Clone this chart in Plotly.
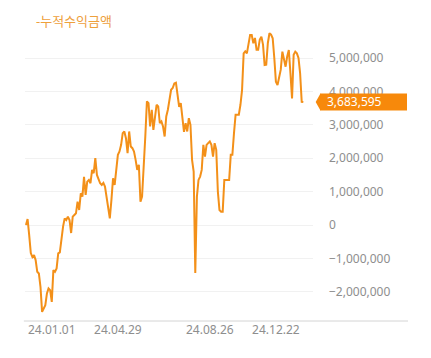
import plotly.graph_objects as go

# cumulative profit amount (millions of won)
values_m = [
    0.0, 0.18, -0.3, -0.84, -0.96, -0.9, -1.05, -1.4, -1.45, -1.85,
    -2.6, -2.5, -2.4, -2.05, -1.9, -1.95, -2.3, -1.35, -1.4, -1.3,
    -0.85, -0.82, -0.35, -0.05, 0.2, 0.15, 0.25, 0.15, -0.24, 0.25,
    0.3, 0.35, 0.7, 0.45, 0.95, 0.85, 1.44, 0.9, 1.3, 1.35,
    1.25, 1.65, 1.55, 2.0, 1.5, 1.35, 1.25, 1.2, 1.26, 1.15,
    0.84, 0.5, 0.2, 0.75, 1.4, 1.2, 1.65, 2.1, 2.2, 2.4,
    2.75, 2.8, 2.6, 2.15, 2.8, 2.35, 2.3, 2.2, 1.95, 1.65,
    1.8, 0.7, 0.85, 1.65, 2.65, 3.7, 3.65, 2.95, 3.45, 2.85,
    3.3, 3.6, 3.55, 3.05, 3.1, 2.95, 2.65, 3.25, 3.45, 3.75,
    4.05, 4.1, 4.24, 4.26, 3.9, 3.54, 3.65, 3.24, 2.79, 3.05,
    2.8, 3.2, 3.0, 1.95, 1.6, -1.44, 0.85, 1.35, 1.45, 1.65,
    2.4, 2.05, 2.4, 2.45, 2.5, 2.4, 2.05, 2.45, 2.25, 1.0,
    0.45, 0.4, 0.4, 1.35, 1.35, 1.35, 1.35, 2.1, 2.1, 2.75,
    3.3, 3.3, 3.3, 3.6, 4.04, 5.14, 5.2, 5.14, 5.4, 5.69,
    5.69, 5.44, 5.6, 5.25, 5.25, 5.55, 5.64, 5.4, 4.79, 4.8,
    5.45, 5.74, 5.7, 5.59, 5.0, 4.29, 4.19, 4.4, 4.65, 5.19,
    5.0, 4.74, 5.05, 5.24, 4.55, 3.79, 5.1, 5.19, 5.14, 5.0,
    4.55, 3.69, 3.683595,
]
values = [round(v * 1_000_000) for v in values_m]
last_value = 3683595
values[-1] = last_value

tick_index = [16, 57, 114, 155]
tick_labels = ["24.01.01", "24.04.29", "24.08.26", "24.12.22"]
y_ticks = [-2_000_000, -1_000_000, 0, 1_000_000, 2_000_000, 3_000_000, 4_000_000, 5_000_000]
series_name = "누적수익금액"

LINE = "#f39019"
BADGE = "#f7890b"
GRAY = "#8e8e8e"
FONT = "Noto Sans, Noto Sans CJK KR, sans-serif"

# layout geometry (the page body has an 8px default margin)
W, H = 423, 350
ML, MR, MT, MB = 17, 118, 17, 37
PW = W - ML - MR
PH = H - MT - MB
Y_RANGE = [-2_874_000, 5_988_000]
per_px = (Y_RANGE[1] - Y_RANGE[0]) / PH
half_h = 8.5 * per_px

def px_x(p):
    return 1 + p / PW

x = list(range(len(values)))

fig = go.Figure()
fig.add_trace(go.Scatter(
    x=x, y=values, mode="lines", name=series_name,
    line=dict(color=LINE, width=2), showlegend=False,
))

fig.update_layout(
    width=W, height=H,
    margin=dict(l=ML, r=MR, t=MT, b=MB),
    paper_bgcolor="white", plot_bgcolor="white",
    font=dict(family=FONT, size=12, color=GRAY),
    xaxis=dict(
        range=[-0.6, 178], tickmode="array", tickvals=tick_index, ticktext=tick_labels,
        showgrid=False, zeroline=False, showline=False, ticks="",
        tickfont=dict(size=12, color=GRAY),
    ),
    yaxis=dict(
        range=Y_RANGE, side="right", tickmode="array", tickvals=y_ticks,
        tickformat=",", showgrid=True, gridcolor="#f1f1f1", gridwidth=1,
        zeroline=False, showline=False, ticks="", ticklabelstandoff=15,
        tickfont=dict(size=12, color=GRAY),
    ),
    shapes=[
        dict(type="line", xref="paper", yref="paper", x0=-0.004, x1=px_x(95), y0=0, y1=0,
             line=dict(color="#d4d4d4", width=1)),
        dict(type="rect", xref="paper", yref="y",
             x0=px_x(7), x1=px_x(94), y0=last_value - half_h, y1=last_value + half_h,
             fillcolor=BADGE, line=dict(width=0), layer="above"),
        dict(type="path", xref="paper", yref="y",
             path=(f"M {px_x(2.7)},{last_value} L {px_x(7.5)},{last_value + half_h} "
                   f"L {px_x(7.5)},{last_value - half_h} Z"),
             fillcolor=BADGE, line=dict(width=0), layer="above"),
    ],
    annotations=[
        dict(text=f"{last_value:,}", xref="paper", yref="y", x=1, y=last_value,
             xanchor="left", yanchor="middle", xshift=12, showarrow=False,
             font=dict(family=FONT, size=12, color="white")),
        dict(text="-" + series_name, xref="paper", yref="paper", x=0.03, y=1.012,
             xanchor="left", yanchor="middle", showarrow=False,
             font=dict(family=FONT, size=13, color="#eea03c")),
    ],
)

fig.write_html("out.html")
